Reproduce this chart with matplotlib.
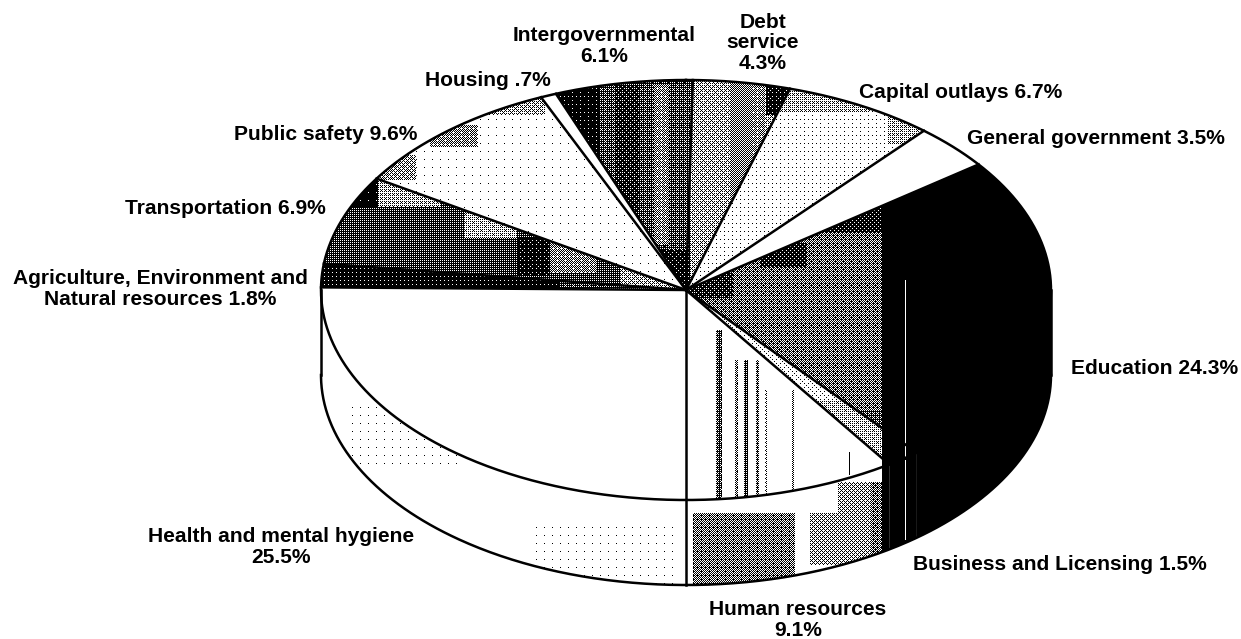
import matplotlib
matplotlib.use("Agg")
import matplotlib.pyplot as plt
from matplotlib.patches import Polygon
import numpy as np

plt.rcParams['font.family'] = ['Liberation Sans', 'DejaVu Sans']

# Slices, clockwise starting from the top of the pie
categories = ['Debt service', 'Capital outlays', 'General government', 'Education',
              'Business and Licensing', 'Human resources', 'Health and mental hygiene',
              'Agriculture, Environment and Natural resources', 'Transportation',
              'Public safety', 'Housing', 'Intergovernmental']
shares = [4.3, 6.7, 3.5, 24.3, 1.5, 9.1, 25.5, 1.8, 6.9, 9.6, 0.7, 6.1]
labels = ['Debt\nservice\n4.3%', 'Capital outlays 6.7%', 'General government 3.5%',
          'Education 24.3%', 'Business and Licensing 1.5%', 'Human resources\n9.1%',
          'Health and mental hygiene\n25.5%', 'Agriculture, Environment and\nNatural resources 1.8%',
          'Transportation 6.9%', 'Public safety 9.6%', 'Housing .7%', 'Intergovernmental\n6.1%']

W, H = 1241, 639
CX, CY, RX, RY, DEPTH = 686, 290, 365, 210, 85
START = 0.3  # percent, rotation of the first slice

# label placement: x, y, horizontal alignment
label_pos = [(763, 43, 'center'), (859, 92, 'left'), (967, 139, 'left'),
             (1071, 368, 'left'), (913, 565, 'left'), (798, 620, 'center'),
             (281, 547, 'center'), (160, 289, 'center'), (125, 209, 'left'),
             (234, 135, 'left'), (425, 80, 'left'), (604, 46, 'center')]

# halftone shading per slice: base gray, then blocks (x0, x1, y0, y1, gray)
top_shade = {
    'Debt service': (0.66, [(686, 690, 80, 290, 0.15), (730, 750, 80, 290, 0.5),
                            (766, 790, 85, 115, 0.08), (750, 765, 85, 200, 0.55)]),
    'Capital outlays': (0.95, [(780, 870, 85, 112, 0.7), (888, 920, 115, 145, 0.7)]),
    'General government': (1.0, []),
    'Education': (0.42, [(800, 882, 170, 233, 0.12), (760, 807, 243, 267, 0.12),
                         (690, 733, 273, 298, 0.15), (850, 882, 410, 440, 0.32),
                         (882, 1060, 80, 500, 0.0), (905, 906, 280, 500, 0.75)]),
    'Business and Licensing': (0.72, [(700, 840, 290, 400, 0.9), (882, 940, 400, 500, 0.0),
                                      (905, 906, 400, 500, 0.75)]),
    'Human resources': (1.0, [(716, 722, 330, 510, 0.3), (735, 738, 360, 510, 0.45),
                              (744, 748, 360, 510, 0.25), (756, 759, 360, 510, 0.3),
                              (765, 768, 390, 510, 0.7), (792, 794, 390, 510, 0.5),
                              (849, 850, 452, 475, 0.2), (882, 940, 400, 500, 0.0)]),
    'Health and mental hygiene': (1.0, []),
    'Agriculture, Environment and Natural resources': (0.06, [(560, 680, 270, 292, 0.3)]),
    'Transportation': (0.25, [(325, 378, 175, 208, 0.02), (378, 440, 180, 207, 0.68),
                              (465, 517, 213, 238, 0.72), (550, 597, 243, 273, 0.55),
                              (620, 690, 265, 295, 0.65), (517, 550, 238, 275, 0.08)]),
    'Public safety': (0.985, [(380, 416, 155, 180, 0.6), (430, 478, 125, 147, 0.55),
                              (478, 545, 95, 115, 0.65)]),
    'Housing': (1.0, []),
    'Intergovernmental': (0.22, [(555, 600, 85, 290, 0.04), (600, 615, 85, 250, 0.3),
                                 (615, 640, 85, 250, 0.15), (640, 655, 85, 250, 0.3),
                                 (655, 668, 85, 245, 0.55), (668, 690, 85, 250, 0.3),
                                 (600, 690, 250, 290, 0.1)]),
}
side_shade = {
    'Education': (0.0, []),
    'Business and Licensing': (0.0, [(905, 906, 460, 540, 0.75)]),
    'Human resources': (1.0, [(689, 795, 513, 585, 0.45), (810, 882, 513, 565, 0.62),
                              (838, 882, 482, 513, 0.62), (870, 882, 482, 560, 0.42),
                              (882, 940, 460, 560, 0.0), (905, 906, 460, 540, 0.75)]),
    'Health and mental hygiene': (1.0, [(530, 680, 520, 585, 0.985), (350, 460, 400, 470, 0.985)]),
}


def rim(angle_deg):
    a = np.radians(angle_deg)
    return CX + RX * np.sin(a), CY - RY * np.cos(a)


def bayer(n):
    m = np.array([[0]])
    for _ in range(n):
        m = np.block([[4 * m, 4 * m + 2], [4 * m + 3, 4 * m + 1]])
    return (m + 0.5) / m.size


def halftone(base, blocks):
    gray = np.full((H, W), float(base))
    for x0, x1, y0, y1, g in blocks:
        gray[y0:y1, x0:x1] = g
    thresh = np.tile(bayer(3), (H // 8 + 1, W // 8 + 1))[:H, :W]
    return (gray > thresh).astype(float)


def textured(ax, pts, shade):
    patch = Polygon(pts, closed=True, facecolor='none', edgecolor='none')
    ax.add_patch(patch)
    img = ax.imshow(halftone(*shade), cmap='gray', vmin=0, vmax=1, extent=(0, W, H, 0),
                    interpolation='nearest', zorder=1)
    img.set_clip_path(patch)


fig = plt.figure(figsize=(W / 100, H / 100), dpi=100)
ax = fig.add_axes([0, 0, 1, 1])

edges = (START + np.concatenate([[0], np.cumsum(shares)])) * 3.6

# side wall first, only the front half of the pie shows it
for name, a0, a1 in zip(categories, edges[:-1], edges[1:]):
    lo, hi = max(a0, 90), min(a1, 270)
    if hi <= lo or name not in side_shade:
        continue
    t = np.linspace(lo, hi, 80)
    x, y = rim(t)
    pts = np.column_stack([np.r_[x, x[::-1]], np.r_[y, y[::-1] + DEPTH]])
    textured(ax, pts, side_shade[name])

# top face
for name, a0, a1 in zip(categories, edges[:-1], edges[1:]):
    t = np.linspace(a0, a1, 80)
    x, y = rim(t)
    pts = np.column_stack([np.r_[CX, x], np.r_[CY, y]])
    textured(ax, pts, top_shade[name])

# outlines
x, y = rim(np.linspace(0, 360, 721))
ax.plot(x, y, color='black', lw=1.8, zorder=3)
x, y = rim(np.linspace(90, 270, 361))
ax.plot(x, y + DEPTH, color='black', lw=1.8, zorder=3)
for a in (90, 270):
    xs, ys = rim(a)
    ax.plot([xs, xs], [ys, ys + DEPTH], color='black', lw=1.8, zorder=3)
for name, a in zip(categories, edges[:-1]):
    if name == 'Health and mental hygiene':  # drawn straight down below
        continue
    xs, ys = rim(a)
    ax.plot([CX, xs], [CY, ys], color='black', lw=1.8, zorder=3)
ax.plot([CX, CX], [CY, CY + RY + DEPTH], color='black', lw=1.8, zorder=3)

for text, (lx, ly, ha) in zip(labels, label_pos):
    ax.text(lx, ly, text, ha=ha, va='center', fontsize=15.1, fontweight='bold',
            color='black', linespacing=1.08, zorder=4)

ax.set_xlim(0, W)
ax.set_ylim(H, 0)
ax.axis('off')
fig.savefig('out.png', dpi=100, facecolor='white')
